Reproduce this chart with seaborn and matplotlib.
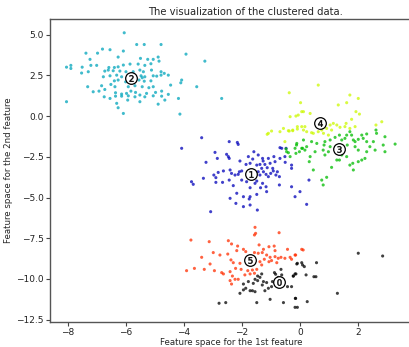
import numpy as np
import pandas as pd
import matplotlib
matplotlib.use('Agg')
import matplotlib.pyplot as plt
import matplotlib.cm as cm
import seaborn as sns

#-----------------------
# Data
#-----------------------

# cluster 0 (black)
x0 = [-0.11, 0.06, 0.15, -0.88, -0.84, -0.655, -0.63, -0.75, -0.57, -0.23, -0.17, -0.29, -0.43,
      -1.32, -1.38, -1.55, -1.46, -1.26, -1.30, -1.15, -1.09, -1.21, -0.95, -0.98,
      -1.95, -1.78, -1.61, -1.46, -1.95, -1.87, -1.72, -1.55, -1.64, -2.07,
      -2.79, -2.56, -1.49, -1.03, -0.57, -0.15, -0.17,
      2.01, 2.85, 0.57, 0.09, -0.09, 0.21, 0.48, 0.55, -0.14, -0.23, 1.29, -0.16, 0.25, -0.09]
y0 = [-9.08, -9.00, -9.24, -9.61, -9.71, -9.41, -9.75, -9.90, -10.10, -9.82, -9.69, -10.47, -10.47,
      -9.69, -9.90, -10.02, -9.82, -10.16, -10.37, -10.22, -10.57, -10.72, -10.16, -10.47,
      -10.31, -10.16, -10.27, -10.10, -10.67, -10.57, -10.72, -10.78, -10.72, -10.88,
      -11.49, -11.45, -11.45, -11.25, -11.45, -11.19, -11.74,
      -8.42, -8.59, -9.00, -9.14, -9.04, -9.75, -9.86, -9.86, -9.69, -9.82, -10.88, -11.19, -11.39, -11.74]

# cluster 1 (blue / violet)
x1 = [-4.08, -3.39, -2.44, -2.16, -2.13, -2.93, -2.85, -2.53, -2.47, -2.44, -3.24, -2.07,
      -1.78, -1.63, -1.59, -1.44, -1.29, -1.27, -1.09, -0.90,
      -1.86, -1.72, -1.49, -1.38, -1.21, -1.03, -0.86, -0.69, -0.51, -0.29, -0.29,
      -2.64, -2.82, -2.97, -2.90, -3.33, -2.41, -2.36, -2.24, -2.13, -2.09, -2.01,
      -1.44, -1.38, -1.26, -1.17, -1.09, -1.01, -0.92, -0.83, -0.78, -0.71,
      -1.32, -1.13, -0.94, -3.74, -3.68, -2.90, -2.67, -2.44, -2.30,
      -2.01, -1.84, -1.67, -1.55, -1.49, -1.29, -1.17, -1.36, -1.72,
      -0.71, -0.29, 0.00, -0.17, 0.23, 0.31,
      -2.41, -2.18, -1.95, -1.75, -1.72, -1.49, -1.15,
      -2.21, -1.95, -1.72, -1.47, -3.08, -0.63, -0.48, -0.52, -0.69]
y1 = [-1.98, -1.33, -1.57, -1.62, -1.74, -2.23, -2.60, -2.35, -2.49, -2.60, -2.84, -2.76,
      -2.49, -2.64, -2.19, -2.39, -2.60, -2.76, -2.60, -2.49,
      -2.97, -2.90, -3.01, -2.97, -2.97, -2.90, -2.80, -2.60, -2.84, -3.01, -3.21,
      -3.37, -3.46, -3.62, -3.78, -3.82, -3.31, -3.52, -3.62, -3.58, -3.42, -3.37,
      -3.42, -3.62, -3.42, -3.58, -3.72, -3.52, -3.37, -3.62, -3.42, -3.72,
      -3.21, -3.17, -3.21, -4.03, -4.19, -4.07, -4.07, -3.93, -4.27,
      -3.93, -4.03, -3.82, -4.13, -3.99, -4.13, -4.34, -4.40, -4.40,
      -4.23, -4.34, -4.64, -4.95, -5.42, -3.93,
      -5.05, -4.74, -4.95, -5.09, -4.95, -4.81, -4.64,
      -5.36, -5.56, -5.46, -5.77, -5.87, -1.98, -1.98, -2.49, -1.94]

# cluster 2 (cyan)
x2 = [-6.06, -5.63, -5.37, -4.79, -6.81, -6.55, -6.09, -7.38, -6.98, -6.27, -5.50, -5.25,
      -5.06, -4.89, -7.24, -4.86, -8.05, -7.90, -7.90, -7.51, -7.21, -7.01, -6.59, -6.40,
      -6.27, -6.09, -5.86, -5.58, -5.35, -5.14, -7.53, -7.30, -6.73, -6.61, -6.44, -6.21,
      -6.00, -5.75, -5.52, -5.40, -5.12, -4.79, -4.68, -6.78, -6.55, -6.32, -6.15, -5.48,
      -5.44, -5.35, -5.06, -4.94, -4.79, -4.54, -6.40, -6.27, -6.01, -5.75, -5.55, -5.37,
      -5.14, -7.32, -6.84, -6.52, -6.38, -5.92, -5.69, -5.44, -5.21, -5.06, -4.46,
      -7.13, -6.93, -6.73, -6.36, -6.15, -5.98, -5.83, -5.67, -5.52, -5.29, -4.98, -4.77,
      -6.75, -6.36, -6.15, -5.92, -5.69, -5.35, -5.06, -4.77, -4.54,
      -8.05, -6.55, -5.94, -5.52, -4.89, -4.66, -6.32, -6.27, -6.09,
      -3.93, -3.28, -4.08, -4.11, -3.56, -4.19, -2.70, -4.14]
y2 = [5.11, 4.39, 4.39, 4.39, 4.11, 4.07, 3.99, 3.86, 3.86, 3.62, 3.54, 3.48,
      3.48, 3.62, 3.48, 3.37, 3.00, 3.11, 2.92, 3.00, 3.11, 3.11, 2.98, 2.98,
      3.02, 3.13, 3.19, 3.19, 3.11, 3.21, 2.64, 2.72, 2.76, 2.82, 2.78, 2.76,
      2.72, 2.72, 2.82, 2.72, 2.82, 2.72, 2.62, 2.41, 2.47, 2.51, 2.41, 2.47,
      2.35, 2.41, 2.47, 2.45, 2.51, 2.51, 2.16, 2.21, 2.10, 2.14, 2.21, 2.14,
      2.16, 1.80, 1.86, 1.94, 1.80, 1.80, 1.86, 1.80, 1.74, 1.80, 1.90,
      1.49, 1.53, 1.63, 1.43, 1.35, 1.39, 1.53, 1.45, 1.29, 1.39, 1.45, 1.53,
      1.18, 1.22, 1.22, 1.24, 1.18, 1.18, 1.24, 1.22, 1.33,
      0.88, 1.08, 0.98, 0.88, 0.73, 0.98, 0.78, 0.51, 0.16,
      3.80, 3.37, 2.21, 2.04, 1.80, 1.08, 1.08, 0.12]

# cluster 3 (green)
x3 = [2.30, 2.62, 2.64, 2.93, 3.28, 2.87, 2.93, 2.59, 2.41, 2.53, 2.30, 2.13, 2.18, 2.01,
      1.84, 1.78, 1.72, 1.61, 1.55, 1.44, 1.36, 1.21, 1.04, 0.86, 0.83, 0.80, 0.86, 1.04,
      0.98, 0.58, 0.52, 0.35, 0.40, 0.23, 0.12, 0.17, 0.06, -0.02, -0.11, -0.17, -0.14,
      -0.34, -0.40, -0.46, 0.32, 0.46, 0.75, 0.80, 0.92, 1.09, 1.27, 1.36, 1.44, 1.61,
      1.72, 1.82, 1.84, 2.01, 2.13, 2.30, 2.24, 1.90, 2.01, 1.63, 1.90, -0.12, 0.09, -0.48]
y3 = [-1.10, -0.86, -1.06, -1.27, -1.72, -1.78, -2.19, -2.09, -1.88, -1.57, -1.57, -1.17, -1.37, -1.43,
      -1.47, -1.17, -0.96, -1.17, -1.37, -1.47, -1.17, -1.31, -1.47, -1.57, -1.78, -2.09, -2.39, -1.88,
      -2.19, -1.68, -2.19, -2.49, -1.57, -1.88, -1.47, -2.09, -1.98, -2.19, -1.68, -1.98, -2.29,
      -2.49, -2.25, -2.19, -2.80, -3.31, -3.93, -4.23, -3.76, -3.15, -2.70, -2.70, -2.39, -2.49,
      -3.01, -2.90, -3.31, -2.80, -2.70, -2.19, -2.60, -1.88, -2.09, -1.78, -1.57, -1.78, -1.98, -2.02]

# cluster 4 (yellow)
x4 = [0.63, -0.37, 1.72, 2.01, 1.61, 1.32, 0.02, 0.06, 0.12, 0.35, -0.06, -0.34, -0.14,
      1.93, 2.05, 1.78, 1.59, 2.82, 2.62,
      -0.57, -0.69, -0.40, -0.25, -0.09, 0.06, 0.12, 0.23, 0.40, 0.46, 0.63, 0.75, 0.81,
      0.92, 1.04, 1.15, 1.27, 1.38, 1.55, 1.72, 1.90, 1.09, 0.98, -0.52,
      -1.09, -0.98, -1.13, -0.37, -0.25, -0.09, 0.17]
y4 = [1.90, 1.43, 1.29, 1.08, 0.82, 0.68, 0.82, 0.27, 0.27, 0.16, 0.06, -0.04, 0.00,
      0.27, 0.12, -0.20, -0.45, -0.35, -0.55,
      -0.76, -0.96, -0.90, -0.90, -0.65, -0.65, -0.86, -0.96, -1.02, -1.06, -0.96, -0.86, -1.06,
      -0.76, -0.55, -0.45, -0.55, -0.69, -0.65, -0.76, -0.65, -0.86, -1.17, -1.57,
      -1.06, -0.92, -1.12, -0.92, -0.86, -0.80, -0.65]

# cluster 5 (red)
x5 = [-1.55, -1.53, -1.57, -0.72, -3.76, -3.13, -2.47, -2.36, -2.99, -2.76, -2.49, -3.39, -3.10,
      -2.15, -1.95, -1.87, -2.18, -1.41, -1.26, -1.30, -1.07, -0.89, -0.86, -1.44, -1.57,
      -0.43, -0.15, 0.06, -1.15, -1.03, -0.86, -0.75, -0.655, -0.52, -0.34, -0.29, -0.80,
      -1.38, -1.23, -1.32, -1.07, -0.98, -2.38, -2.30, -2.07, -2.22, -2.03,
      -1.67, -1.64, -1.49, -1.57, -1.80, -3.91, -3.64, -3.30, -2.95, -2.70, -2.64,
      -2.41, -2.33, -2.24, -2.41, -2.13, -2.36, -1.90, -1.72, 0.11, -0.17]
y5 = [-6.83, -7.20, -7.30, -7.16, -7.61, -7.71, -7.65, -7.85, -8.38, -8.53, -8.47, -8.67, -9.08,
      -7.98, -8.18, -8.32, -8.26, -7.91, -8.18, -8.38, -8.02, -7.98, -8.26, -8.42, -8.38,
      -8.18, -8.53, -8.18, -8.53, -8.67, -8.63, -8.73, -8.67, -8.73, -8.67, -8.79, -9.00,
      -8.94, -8.79, -9.14, -8.94, -8.87, -8.83, -9.00, -9.04, -9.35, -9.41,
      -9.04, -9.45, -9.41, -9.65, -9.49, -9.49, -9.35, -9.41, -9.49, -9.61, -9.69,
      -9.55, -9.82, -10.02, -10.10, -10.02, -10.31, -9.75, -9.69, -8.22, -8.53]

# cluster centres
center_x = [-0.71, -1.70, -5.83, 1.36, 0.69, -1.72]
center_y = [-10.20, -3.58, 2.35, -2.04, -0.41, -8.83]

n_clusters = 6

#-----------------------
# Build dataframe
#-----------------------
xs = [x0, x1, x2, x3, x4, x5]
ys = [y0, y1, y2, y3, y4, y5]
frames = []
for k in range(n_clusters):
    frames.append(pd.DataFrame({'x': xs[k], 'y': ys[k], 'cluster': k}))
df = pd.concat(frames, ignore_index=True)

palette = {k: cm.nipy_spectral(float(k) / n_clusters) for k in range(n_clusters)}

#-----------------------
# Plot
#-----------------------
sns.set_style('white')
fig, ax = plt.subplots(figsize=(4.09, 3.47), dpi=100)

sns.scatterplot(data=df, x='x', y='y', hue='cluster', palette=palette,
                marker='o', s=5, linewidth=0, alpha=0.75, legend=False, ax=ax)

# centres: white circles with the cluster number
ax.scatter(center_x, center_y, marker='o', c='white', alpha=1, s=70,
           edgecolor='k', linewidth=0.9, zorder=3)
for i in range(n_clusters):
    ax.scatter(center_x[i], center_y[i], marker='$%d$' % i, alpha=1, s=22,
               c='k', linewidth=0.3, zorder=4)

ax.set_xlim(-8.62, 3.9)
ax.set_ylim(-12.62, 5.93)
ax.set_xticks([-8, -6, -4, -2, 0, 2])
ax.set_yticks([-12.5, -10.0, -7.5, -5.0, -2.5, 0.0, 2.5, 5.0])
ax.tick_params(labelsize=6.5, length=3, width=0.8, color='#444444', labelcolor='#222222',
               pad=1.5, left=True, bottom=True)
ax.set_title('The visualization of the clustered data.', fontsize=7.2, x=0.538, pad=3)
ax.set_xlabel('Feature space for the 1st feature', fontsize=6.2, labelpad=0.8)
ax.set_ylabel('Feature space for the 2nd feature', fontsize=6.2, labelpad=2.5)
for sp in ax.spines.values():
    sp.set_color('#555555')
    sp.set_linewidth(1.0)

fig.subplots_adjust(left=0.1222, right=1.01, bottom=0.073, top=0.944)
fig.savefig('out.png', dpi=100)
